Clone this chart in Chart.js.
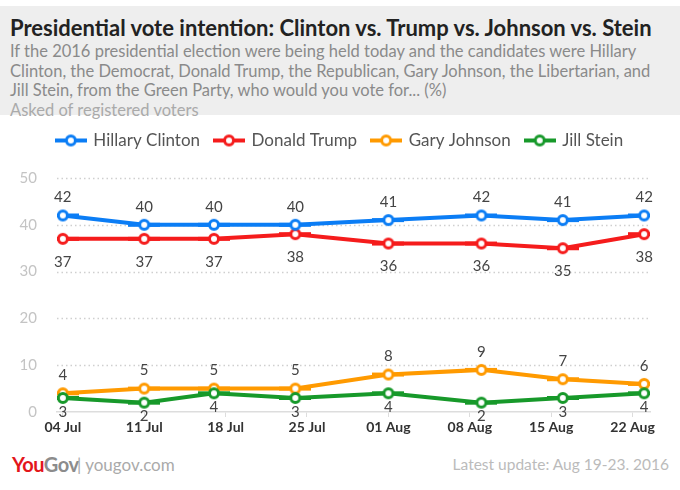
<!DOCTYPE html>
<html>
<head>
<meta charset="utf-8">
<script src="https://cdn.jsdelivr.net/npm/chart.js@4/dist/chart.umd.min.js"></script>
<style>
  body { margin: 0; width: 680px; height: 490px; background: #fff; font-family: Lato, "Open Sans", sans-serif; position: relative; overflow: hidden; }
  #head { position: absolute; left: 0; top: 6px; width: 680px; height: 109px; background: #eeeeee; }
  #title { position: absolute; left: 10px; top: 8px; font-size: 22px; font-weight: bold; color: #222; white-space: nowrap; }
  #sub { position: absolute; left: 10px; top: 36px; font-size: 16.5px; line-height: 19.5px; color: #8a8a8a; white-space: nowrap; }
  #asked { color: #aaa; }
  #wrap { position: absolute; left: 0; top: 117px; width: 680px; height: 333px; }
  #logo { position: absolute; left: 12px; top: 452px; font-size: 20px; font-weight: bold; letter-spacing: -0.5px; }
  #logo .you { color: #e3161b; }
  #logo .gov { color: #8c8c8c; }
  #site { position: absolute; left: 77px; top: 454px; font-size: 17px; color: #aaa; }
  #update { position: absolute; right: 11px; top: 455px; font-size: 15.5px; color: #bbb; }
</style>
</head>
<body>
<div id="head">
  <div id="title">Presidential vote intention: Clinton vs. Trump vs. Johnson vs. Stein</div>
  <div id="sub">If the 2016 presidential election were being held today and the candidates were Hillary<br>Clinton, the Democrat, Donald Trump, the Republican, Gary Johnson, the Libertarian, and<br>Jill Stein, from the Green Party, who would you vote for... (%)<br><span id="asked">Asked of registered voters</span></div>
</div>
<div id="wrap"><canvas id="chart"></canvas></div>
<div id="logo"><span class="you">You</span><span class="gov">Gov</span></div>
<div id="site">| yougov.com</div>
<div id="update">Latest update: Aug 19-23. 2016</div>
<script>
// survey dates as days after 4 July 2016
const surveyDays = [0, 7, 13, 20, 28, 36, 43, 50];
const tickDays = [0, 7, 14, 21, 28, 35, 42, 49];
const tickLabels = ["04 Jul", "11 Jul", "18 Jul", "25 Jul", "01 Aug", "08 Aug", "15 Aug", "22 Aug"];

const clinton = [42, 40, 40, 40, 41, 42, 41, 42];
const trump = [37, 37, 37, 38, 36, 36, 35, 38];
const johnson = [4, 5, 5, 5, 8, 9, 7, 6];
const stein = [3, 2, 4, 3, 4, 2, 3, 4];

const font = "Lato, 'Open Sans', sans-serif";

function pts(vals) {
  return vals.map((v, i) => ({ x: surveyDays[i], y: v }));
}

// little line + circle used as legend marker
function marker(color) {
  const c = document.createElement("canvas");
  c.width = 32; c.height = 14;
  const g = c.getContext("2d");
  g.strokeStyle = color;
  g.lineWidth = 4;
  g.beginPath(); g.moveTo(0, 7); g.lineTo(32, 7); g.stroke();
  g.fillStyle = "#fff";
  g.lineWidth = 3;
  g.beginPath(); g.arc(16, 7, 4.5, 0, Math.PI * 2); g.fill(); g.stroke();
  return c;
}

function series(label, vals, color, labelDy, order) {
  return {
    label: label,
    data: pts(vals),
    borderColor: color,
    backgroundColor: "#fff",
    borderWidth: 4,
    pointRadius: 6,
    pointBorderWidth: 3.5,
    pointBackgroundColor: "#fff",
    pointBorderColor: color,
    pointStyle: marker(color),
    labelDy: labelDy,
    order: order
  };
}

// dotted horizontal grid lines
const dottedGrid = {
  id: "dottedGrid",
  beforeDatasetsDraw(chart) {
    const { ctx, chartArea, scales } = chart;
    ctx.save();
    ctx.strokeStyle = "#cfcfcf";
    ctx.lineWidth = 1.5;
    ctx.setLineDash([1.5, 3]);
    scales.y.ticks.forEach(t => {
      if (t.value === 0) return;
      const y = Math.round(scales.y.getPixelForValue(t.value)) + 0.5;
      ctx.beginPath();
      ctx.moveTo(chartArea.left, y);
      ctx.lineTo(chartArea.right, y);
      ctx.stroke();
    });
    ctx.restore();
  }
};

const valueLabels = {
  id: "valueLabels",
  afterDatasetsDraw(chart) {
    const ctx = chart.ctx;
    ctx.save();
    ctx.font = "15px " + font;
    ctx.fillStyle = "#444";
    ctx.textAlign = "center";
    ctx.textBaseline = "middle";
    chart.data.datasets.forEach((ds, di) => {
      const meta = chart.getDatasetMeta(di);
      meta.data.forEach((p, i) => {
        ctx.fillText(ds.data[i].y, p.x, p.y + ds.labelDy);
      });
    });
    ctx.restore();
  }
};

const legendGap = {
  id: "legendGap",
  beforeInit(chart) {
    const fit = chart.legend.fit;
    chart.legend.fit = function () {
      fit.bind(chart.legend)();
      this.height += 19;
    };
  }
};

new Chart(document.getElementById("chart"), {
  type: "line",
  data: {
    datasets: [
      series("Hillary Clinton", clinton, "#0b7df5", -18, 2),
      series("Donald Trump", trump, "#f51c1c", 23, 3),
      series("Gary Johnson", johnson, "#ff9a00", -18, 1),
      series("Jill Stein", stein, "#17992a", 14, 0)
    ]
  },
  options: {
    responsive: true,
    maintainAspectRatio: false,
    animation: false,
    layout: { padding: 0 },
    plugins: {
      tooltip: { enabled: false },
      legend: {
        labels: {
          usePointStyle: true,
          pointStyleWidth: 28,
          padding: 15,
          color: "#555",
          font: { family: font, size: 17 },
          sort: (a, b) => a.datasetIndex - b.datasetIndex
        }
      }
    },
    scales: {
      x: {
        type: "linear",
        min: -0.5,
        max: 50.5,
        afterBuildTicks: s => { s.ticks = tickDays.map(v => ({ value: v })); },
        afterFit: s => { s.height = 38; },
        ticks: {
          autoSkip: false,
          maxRotation: 0,
          padding: 2,
          color: "#333",
          font: { family: font, size: 14, weight: "bold" },
          callback: v => tickLabels[tickDays.indexOf(v)]
        },
        grid: { drawOnChartArea: false, drawTicks: true, tickLength: 5, color: "#ddd" },
        border: { display: true, color: "#ddd", width: 1.5 }
      },
      y: {
        min: 0,
        max: 50,
        afterFit: s => { s.width = 57; },
        ticks: {
          stepSize: 10,
          padding: 12,
          color: "#c4c4c4",
          font: { family: font, size: 15 }
        },
        grid: { display: false },
        border: { display: false }
      },
      // empty right-hand axis, only keeps 30px free on the right
      yRight: {
        position: "right",
        display: true,
        min: 0,
        max: 50,
        afterFit: s => { s.width = 30; },
        ticks: { display: false },
        grid: { display: false },
        border: { display: false }
      }
    }
  },
  plugins: [dottedGrid, valueLabels, legendGap]
});
</script>
</body>
</html>
